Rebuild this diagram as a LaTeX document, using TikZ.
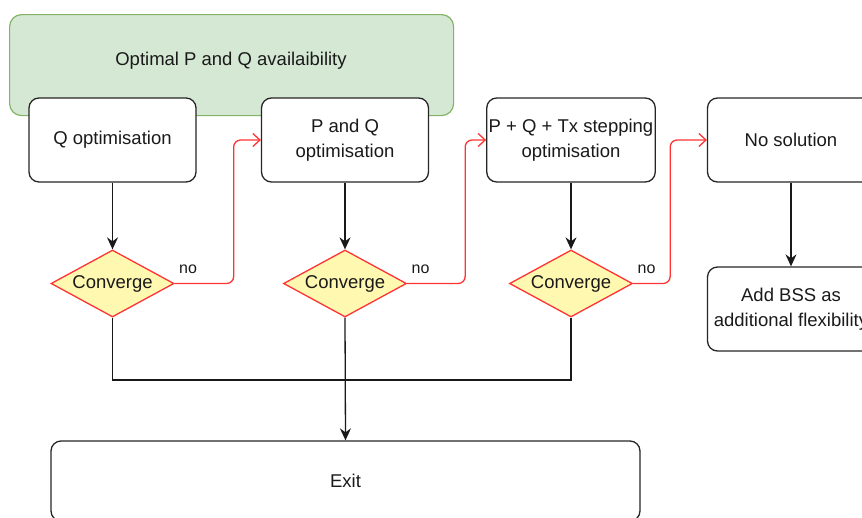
\documentclass[tikz,border=0pt]{standalone}
\usepackage{fontspec}
\setmainfont{Liberation Sans}
\usepackage{tikz}
\usetikzlibrary{calc,arrows.meta,shapes.geometric}
\definecolor{grfill}{HTML}{D5E8D4}
\definecolor{grline}{HTML}{82B366}
\definecolor{ylfill}{HTML}{FFF8B0}
\definecolor{rdline}{HTML}{FF3333}
\definecolor{txt}{HTML}{1A1A1A}

\begin{document}
\begin{tikzpicture}[x=1pt,y=-1pt,
    font=\fontsize{18.5}{25}\selectfont,text=txt,
    box/.style={draw=black!85,fill=white,line width=1.3pt,rounded corners=10pt,
      minimum width=167pt,minimum height=84pt,align=center,inner sep=2pt},
    conv/.style={draw=rdline,fill=ylfill,line width=1.3pt,diamond,inner sep=0pt,
      shape aspect=1.84,minimum width=123pt,minimum height=67pt},
    flow/.style={draw=black!90,line width=1.3pt,-{Stealth[length=12pt,width=11pt,inset=4pt]}},
    noway/.style={draw=rdline,line width=1.3pt,rounded corners=7pt,
      -{Straight Barb[length=7pt,width=13pt]}},
    nolab/.style={font=\fontsize{16}{18}\selectfont,anchor=south west}]
  \useasboundingbox (0,0) rectangle (862,517);
  \clip (0,0) rectangle (862,517);
  % availability band
  \node[draw=grline,fill=grfill,line width=1.2pt,rounded corners=12pt,
        minimum width=444pt,minimum height=101pt,anchor=north west]
        (avail) at (9,14) {};
  \node at (231,61) {Optimal P and Q availaibility};
  % optimisation steps
  \node[box] (qopt) at (112.5,140) {Q optimisation};
  \node[box] (pqopt) at (345,140) {P and Q\\optimisation};
  \node[box] (txopt) at (571,140) {P + Q + Tx stepping\\optimisation};
  \node[box] (nosol) at (791,140) {No solution};
  \node[box] (bss) at (791,309) {Add BSS as\\additional flexibility};
  % convergence checks
  \node[conv] (c1) at (112.5,283.5) {Converge};
  \node[conv] (c2) at (345,283.5) {Converge};
  \node[conv] (c3) at (571,283.5) {Converge};
  \node[box,minimum width=589pt,minimum height=80pt] (exit) at (345.5,481) {Exit};
  \coordinate (join) at (345,380);
  \draw[flow] (qopt) -- (c1);
  \draw[flow] (pqopt) -- (c2);
  \draw[flow] (txopt) -- (c3);
  \draw[flow] (nosol) -- (bss);
  \draw[noway] (c1.east) -- ++(59,0) |- (pqopt.west);
  \draw[noway] (c2.east) -- ++(58,0) |- (txopt.west);
  \draw[noway] (c3.east) -- ++(37,0) |- (nosol.west);
  \node[nolab] at ([xshift=1pt,yshift=6pt]c1.east) {no};
  \node[nolab] at ([xshift=1pt,yshift=6pt]c2.east) {no};
  \node[nolab] at ([xshift=1pt,yshift=6pt]c3.east) {no};
  \draw[line width=1.2pt,draw=black!90] (c1.south) |- (join) -| (c3.south);
  \draw[flow] (c2.south) -- (exit.north);
\end{tikzpicture}
\end{document}
